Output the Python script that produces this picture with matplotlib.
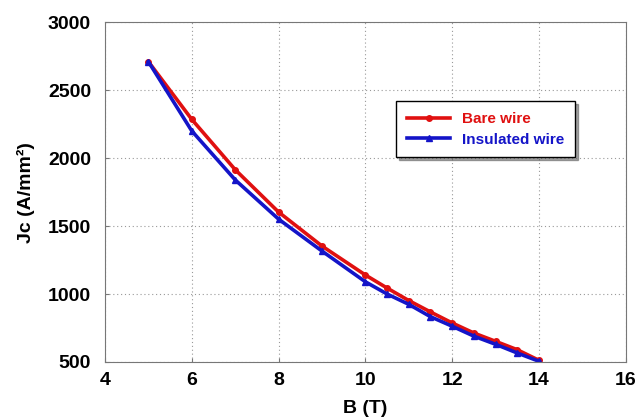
import matplotlib
matplotlib.use('Agg')
import matplotlib.pyplot as plt

plt.rcParams['font.family'] = ['Liberation Sans', 'DejaVu Sans']
plt.rcParams['font.weight'] = 'bold'

# field (T)
B = [5, 6, 7, 8, 9, 10, 10.5, 11, 11.5, 12, 12.5, 13, 13.5, 14]
# critical current density (A/mm^2)
jc_bare = [2710, 2285, 1915, 1603, 1353, 1140, 1044, 952, 868, 787, 713, 652, 590, 512]
jc_insulated = [2710, 2200, 1840, 1551, 1316, 1090, 1000, 924, 833, 763, 690, 630, 566, 505]

red = '#e01010'
blue = '#1414c8'

fig = plt.figure(figsize=(6.36, 4.18), dpi=100)
ax = fig.add_axes([0.165, 0.134, 0.819, 0.813])

ax.plot(B, jc_bare, color=red, lw=2.6, marker='o', ms=4, label='Bare wire')
ax.plot(B, jc_insulated, color=blue, lw=2.6, marker='^', ms=5, label='Insulated wire')

ax.set_xlim(4, 16)
ax.set_ylim(500, 3000)
ax.set_xticks(range(4, 17, 2))
ax.set_yticks(range(500, 3001, 500))
ax.grid(True, ls=(0, (1, 2.5)), color='#999999', lw=0.8)
for s in ax.spines.values():
    s.set_color('#777777')
ax.tick_params(direction='in', length=3, color='#777777', labelsize=14)
ax.tick_params(axis='y', pad=10)
ax.tick_params(axis='x', pad=7)
for lbl in ax.get_xticklabels() + ax.get_yticklabels():
    lbl.set_fontweight('bold')

ax.set_xlabel('B (T)', fontsize=14, fontweight='bold', labelpad=8)
ax.set_ylabel('Jc (A/mm²)', fontsize=14, fontweight='bold', labelpad=9)

leg = ax.legend(loc='upper left', bbox_to_anchor=(0.545, 0.79), fontsize=11,
                frameon=True, shadow=True, fancybox=False, edgecolor='black',
                handlelength=2.8, borderpad=0.7, labelspacing=0.45)
leg.get_frame().set_linewidth(1.0)
for txt, c in zip(leg.get_texts(), [red, blue]):
    txt.set_color(c)
    txt.set_fontweight('bold')

fig.savefig('out.png', dpi=100)
